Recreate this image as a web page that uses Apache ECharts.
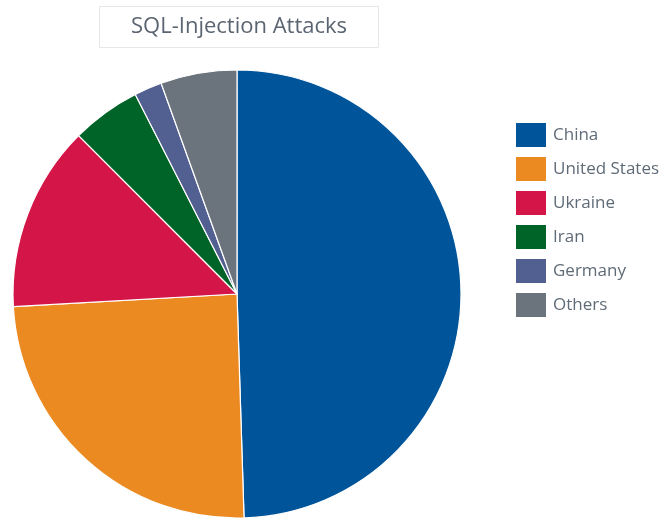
<!DOCTYPE html>
<html>
<head>
<meta charset="utf-8">
<script src="https://cdn.jsdelivr.net/npm/echarts@6/dist/echarts.min.js"></script>
<style>
  html, body { margin: 0; padding: 0; background: #ffffff; }
  #chart { width: 662px; height: 519px; }
</style>
</head>
<body>
<div id="chart"></div>
<script>
// Share of SQL-injection attacks by country of origin (%)
const countries = ['China', 'United States', 'Ukraine', 'Iran', 'Germany', 'Others'];
const shares = [49.5, 24.6, 13.4, 5.0, 2.0, 5.5];
const colors = ['#00559a', '#ec8a22', '#d31548', '#006429', '#525f91', '#6b737c'];

const chart = echarts.init(document.getElementById('chart'), null, { renderer: 'canvas' });

chart.setOption({
  animation: false,
  color: colors,
  title: {
    text: 'SQL-Injection Attacks',
    left: 99,
    top: 6,
    padding: [10, 32, 10, 32],
    borderColor: '#e4e6e8',
    borderWidth: 1,
    textStyle: {
      fontFamily: 'Open Sans',
      fontWeight: 'normal',
      fontSize: 22,
      color: '#5a6571'
    }
  },
  legend: {
    orient: 'vertical',
    left: 511,
    top: 118,
    padding: 5,
    itemWidth: 30,
    itemHeight: 24,
    itemGap: 10,
    icon: 'rect',
    itemStyle: { borderWidth: 0 },
    textStyle: {
      fontFamily: 'Open Sans',
      fontSize: 17,
      color: '#5f6b77',
      padding: [0, 0, 0, 2]
    },
    data: countries
  },
  series: [{
    type: 'pie',
    center: [237, 294],
    radius: 224,
    startAngle: 90,
    clockwise: true,
    label: { show: false },
    labelLine: { show: false },
    itemStyle: { borderColor: '#ffffff', borderWidth: 1.2 },
    emphasis: { disabled: true },
    data: countries.map((name, i) => ({ name, value: shares[i] }))
  }]
});
</script>
</body>
</html>
